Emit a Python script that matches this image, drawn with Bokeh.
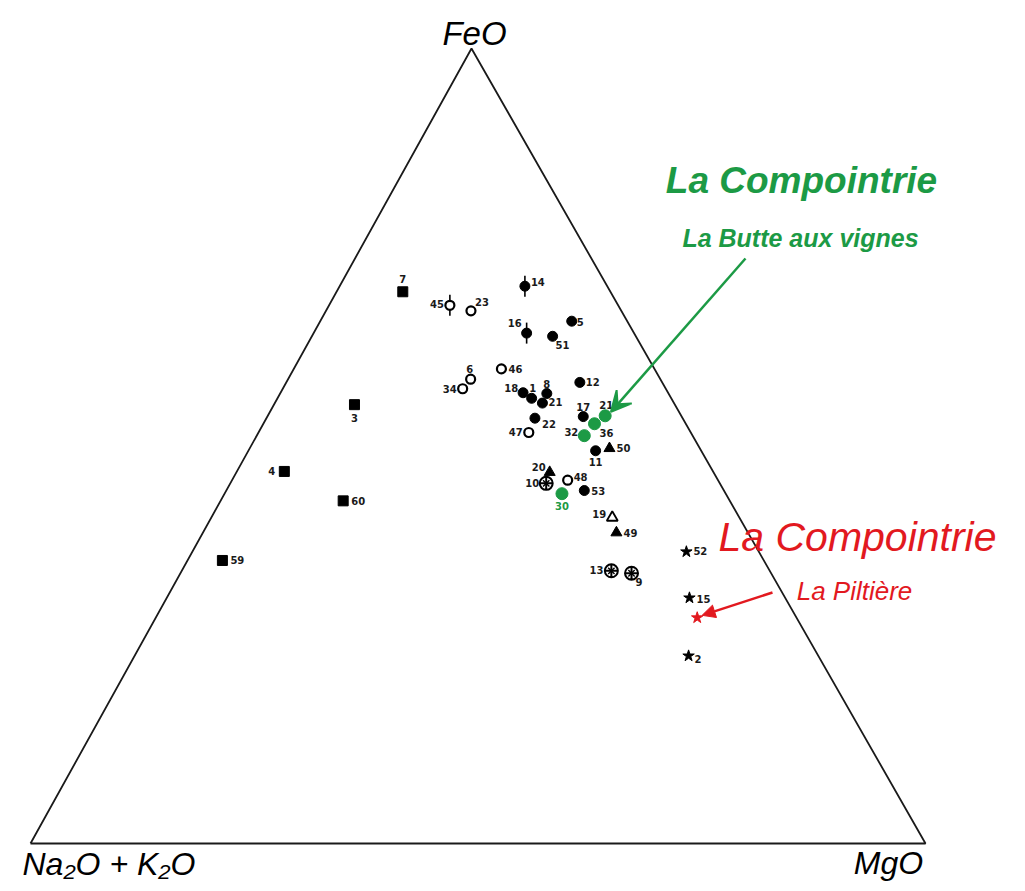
import numpy as np
from bokeh.plotting import figure
from bokeh.models import ColumnDataSource, Range1d, Arrow, NormalHead, VeeHead, Label
from bokeh.core.properties import value
from bokeh.embed import file_html
from bokeh.resources import INLINE

# ---------------- data (ternary compositions, % FeO and % MgO; alkalis = rest) -------------
sq_id = ["7", "3", "4", "60", "59"]
sq_feo = [69.4, 55.2, 46.8, 43.1, 35.6]
sq_mgo = [7.4, 9.0, 5.3, 13.7, 3.9]

oc_id = ["45", "23", "46", "6", "34", "47", "48"]
oc_feo = [67.7, 67.0, 59.7, 58.4, 57.2, 51.7, 45.7]
oc_mgo = [13.5, 16.2, 23.2, 20.4, 20.1, 30.2, 37.5]

fc_id = ["14", "16", "5", "51", "12", "18", "1", "8", "21", "22", "17", "11", "53"]
fc_feo = [70.1, 64.2, 65.7, 63.8, 58.0, 56.7, 56.0, 56.6, 55.4, 53.5, 53.7, 49.4, 44.4]
fc_mgo = [20.7, 23.8, 28.1, 26.9, 32.8, 27.1, 28.4, 29.8, 29.9, 30.0, 35.3, 38.8, 40.0]

gc_id = ["21", "36", "32", "30"]          # La Compointrie - La Butte aux vignes
gc_feo = [53.8, 52.8, 51.3, 44.0]
gc_mgo = [37.7, 37.0, 36.6, 37.7]

ft_id = ["50", "20", "49"]
ft_feo = [49.7, 46.7, 39.1]
ft_mgo = [40.2, 35.0, 46.2]

ot_id = ["19"]
ot_feo = [41.0]
ot_mgo = [44.8]

cc_id = ["10", "13", "9"]
cc_feo = [45.3, 34.3, 34.0]
cc_mgo = [35.3, 48.0, 50.4]

st_id = ["52", "15", "2"]
st_feo = [36.7, 30.9, 23.6]
st_mgo = [55.2, 58.4, 61.9]

rs_feo = [28.4]                             # La Compointrie - La Piltière
rs_mgo = [60.5]

barred = ["45", "14", "16"]                 # samples drawn with a vertical bar

# ---------------- geometry ----------------
APEX_X = 441.0 / 895.0      # horizontal position of FeO apex along base (fraction)


def tern(feo, mgo):
    f = np.asarray(feo, dtype=float) / 100.0
    m = np.asarray(mgo, dtype=float) / 100.0
    return m + f * APEX_X, f


def page(px, py):
    # picture pixel -> data coordinates (used for annotations only)
    return (px - 30.0) / 895.0, (843.0 - py) / 795.0


W, H = 1009, 883
x0, y1 = page(0, 0)
x1, y0 = page(W, H)

p = figure(width=W, height=H, x_range=Range1d(x0, x1), y_range=Range1d(y0, y1),
           output_backend="svg", toolbar_location=None, min_border=0,
           x_axis_location=None, y_axis_location=None, outline_line_color=None)
p.grid.visible = False
p.background_fill_color = "white"
p.border_fill_color = "white"

# triangle
tx, ty = tern([0, 100, 0, 0], [0, 0, 100, 0])
p.line(tx, ty, line_color="#1a1a1a", line_width=1.8)

FONT = "Liberation Sans"
GREEN = "#1c9a45"
RED = "#e2191f"

# vertical bars
bx, by = [], []
for ids, fe, mg in [(oc_id, oc_feo, oc_mgo), (fc_id, fc_feo, fc_mgo)]:
    for i, s in enumerate(ids):
        if s in barred:
            xx, yy = tern([fe[i]], [mg[i]])
            bx.append(xx[0]); by.append(yy[0])
p.scatter(bx, by, marker="dash", angle=np.pi / 2, size=21, line_color="black", line_width=1.6)


def pts(fe, mg):
    x, y = tern(fe, mg)
    return ColumnDataSource(dict(x=x, y=y))


p.scatter("x", "y", source=pts(sq_feo, sq_mgo), marker="square", size=10, fill_color="black", line_color="black")
p.scatter("x", "y", source=pts(oc_feo, oc_mgo), marker="circle", size=9, fill_color="white", line_color="black", line_width=2.2)
p.scatter("x", "y", source=pts(fc_feo, fc_mgo), marker="circle", size=10, fill_color="black", line_color="black")
p.scatter("x", "y", source=pts(gc_feo, gc_mgo), marker="circle", size=12, fill_color=GREEN, line_color=GREEN)
p.scatter("x", "y", source=pts(ft_feo, ft_mgo), marker="triangle", size=11, fill_color="black", line_color="black")
p.scatter("x", "y", source=pts(ot_feo, ot_mgo), marker="triangle", size=11, fill_color="white", line_color="black", line_width=1.8)
p.scatter("x", "y", source=pts(cc_feo, cc_mgo), marker="circle_cross", size=13, fill_color="white", line_color="black", line_width=2.0)
p.scatter("x", "y", source=pts(cc_feo, cc_mgo), marker="x", size=9, line_color="black", line_width=1.4)
p.scatter("x", "y", source=pts(st_feo, st_mgo), marker="star", size=12, fill_color="black", line_color="black")
p.scatter("x", "y", source=pts(rs_feo, rs_mgo), marker="star", size=12, fill_color=RED, line_color=RED)

# ---------------- sample number labels (layout: dx, dy in px, alignment) ----------------
lab_layout = {
    ("sq", "7"): (0, -13, "center"), ("sq", "3"): (0, 13, "center"), ("sq", "4"): (-9, 0, "right"),
    ("sq", "60"): (8, 0, "left"), ("sq", "59"): (8, 0, "left"),
    ("oc", "45"): (-6, -1, "right"), ("oc", "23"): (4, -9, "left"), ("oc", "46"): (7, 0, "left"),
    ("oc", "6"): (-1, -10, "center"), ("oc", "34"): (-6, 0, "right"), ("oc", "47"): (-6, 0, "right"),
    ("oc", "48"): (6, -3, "left"),
    ("ot", "19"): (-6, -4, "right"),
    ("fc", "14"): (6, -4, "left"), ("fc", "16"): (-5, -10, "right"), ("fc", "5"): (5, 1, "left"),
    ("fc", "51"): (3, 9, "left"), ("fc", "12"): (6, 0, "left"), ("fc", "18"): (-5, -5, "right"),
    ("fc", "1"): (1, -10, "center"), ("fc", "8"): (0, -10, "center"), ("fc", "21"): (6, -1, "left"),
    ("fc", "22"): (7, 6, "left"), ("fc", "17"): (0, -10, "center"), ("fc", "11"): (0, 11, "center"),
    ("fc", "53"): (7, 0, "left"),
    ("gc", "21"): (1, -11, "center"), ("gc", "36"): (5, 9, "left"), ("gc", "32"): (-6, -4, "right"),
    ("gc", "30"): (0, 12, "center"),
    ("ft", "50"): (7, 0, "left"), ("ft", "20"): (-4, -5, "right"), ("ft", "49"): (7, 0, "left"),
    ("cc", "10"): (-7, 0, "right"), ("cc", "13"): (-8, -1, "right"), ("cc", "9"): (4, 9, "left"),
    ("st", "52"): (7, -1, "left"), ("st", "15"): (7, 1, "left"), ("st", "2"): (6, 3, "left"),
}

groups = {
    "sq": (sq_id, sq_feo, sq_mgo), "oc": (oc_id, oc_feo, oc_mgo), "fc": (fc_id, fc_feo, fc_mgo),
    "gc": (gc_id, gc_feo, gc_mgo), "ft": (ft_id, ft_feo, ft_mgo), "ot": (ot_id, ot_feo, ot_mgo),
    "cc": (cc_id, cc_feo, cc_mgo), "st": (st_id, st_feo, st_mgo),
}

for align in ["left", "right", "center"]:
    for colkey, col in [("k", "#1a1a1a"), ("g", GREEN)]:
        d = dict(x=[], y=[], t=[], dx=[], dy=[])
        for g, (ids, fe, mg) in groups.items():
            xs, ys = tern(fe, mg)
            for i, s in enumerate(ids):
                dx, dy, al = lab_layout[(g, s)]
                is_green = (g == "gc" and s == "30")
                if al != align or (colkey == "g") != is_green:
                    continue
                d["x"].append(xs[i]); d["y"].append(ys[i]); d["t"].append(s)
                d["dx"].append(dx); d["dy"].append(dy)
        if d["x"]:
            p.text("x", "y", text="t", x_offset="dx", y_offset="dy", source=ColumnDataSource(d),
                   text_font=value("DejaVu Sans"), text_font_size="7.5pt", text_font_style="bold",
                   text_color=col, text_align=align, text_baseline="middle")

# ---------------- arrows ----------------
gx0, gy0 = page(745, 258)
gx1, gy1 = tern([54.3], [38.1])
p.add_layout(Arrow(end=VeeHead(size=20, fill_color=GREEN, line_color=GREEN, line_width=2),
                   x_start=gx0, y_start=gy0, x_end=gx1[0], y_end=gy1[0],
                   line_color=GREEN, line_width=2.5))
rx0, ry0 = page(772, 592)
rx1, ry1 = tern([28.7], [60.9])
p.add_layout(Arrow(end=NormalHead(size=13, fill_color=RED, line_color=RED),
                   x_start=rx0, y_start=ry0, x_end=rx1[0], y_end=ry1[0],
                   line_color=RED, line_width=2.5))

# ---------------- texts ----------------
def lab(text, px, py, size, color="black", style="italic", align="left"):
    x, y = page(px, py)
    p.add_layout(Label(x=x, y=y, text=text, text_font=FONT, text_font_size=size,
                       text_font_style=style, text_color=color, text_align=align,
                       text_baseline="alphabetic"))


lab("FeO", 474, 33, "33px", align="center")
lab("Na\u2082O + K\u2082O", 22, 863, "32px")
lab("MgO", 888, 862, "32px", align="center")

lab("La Compointrie", 801, 180, "37px", color=GREEN, style="bold italic", align="center")
lab("La Butte aux vignes", 800, 237, "25px", color=GREEN, style="bold italic", align="center")
lab("La Compointrie", 857, 536, "41px", color=RED, style="italic", align="center")
lab("La Piltière", 854, 590, "26px", color=RED, style="italic", align="center")

open("out.html", "w").write(file_html(p, INLINE))
